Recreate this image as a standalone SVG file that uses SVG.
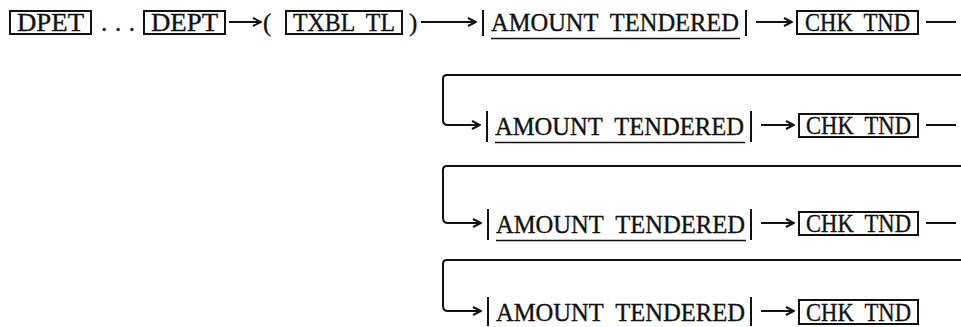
<svg xmlns="http://www.w3.org/2000/svg" width="961" height="327" viewBox="0 0 961 327">
<defs>
<style>
.t{font-family:"Liberation Serif","DejaVu Serif",serif;font-size:25px;fill:#111;stroke:#111;stroke-width:0.35;white-space:pre}
.box{fill:none;stroke:#111;stroke-width:2}
.bar{stroke:#111;stroke-width:2}
.ul{stroke:#111;stroke-width:1.6}
.c{fill:none;stroke:#111;stroke-width:2}
</style>
<marker id="ah" viewBox="0 0 10 10" refX="9" refY="5" markerWidth="10" markerHeight="10" markerUnits="userSpaceOnUse" orient="auto">
<path d="M1,1 L9,5 L1,9" fill="none" stroke="#111" stroke-width="2"/>
</marker>
</defs>
<rect width="961" height="327" fill="#fff"/>

<g id="dpet"><rect class="box" x="10" y="11" width="81" height="23"/><text class="t" x="17" y="31" textLength="67" lengthAdjust="spacingAndGlyphs">DPET</text></g>
<g id="dots"><text class="t" x="101" y="31" textLength="34" lengthAdjust="spacing">. . .</text></g>
<g id="dept"><rect class="box" x="144" y="11" width="81" height="23"/><text class="t" x="151" y="31" textLength="67" lengthAdjust="spacingAndGlyphs">DEPT</text></g>
<g id="paren-open"><text class="t" x="263" y="31">(</text></g>
<g id="txbl"><rect class="box" x="286" y="11" width="116" height="23"/><text class="t" x="293" y="31" textLength="102" lengthAdjust="spacingAndGlyphs" xml:space="preserve">TXBL  TL</text></g>
<g id="paren-close"><text class="t" x="409" y="31">)</text></g>

<g id="amt1"><line class="bar" x1="483" y1="10" x2="483" y2="36"/><text class="t" x="491" y="31" textLength="248" lengthAdjust="spacingAndGlyphs" xml:space="preserve">AMOUNT  TENDERED</text><line class="ul" x1="491" y1="38.5" x2="740" y2="38.5"/><line class="bar" x1="746" y1="10" x2="746" y2="36"/></g>
<g id="chk1"><rect class="box" x="797" y="11" width="121" height="23"/><text class="t" x="805" y="31" textLength="105" lengthAdjust="spacingAndGlyphs" xml:space="preserve">CHK  TND</text></g>

<g id="amt2"><line class="bar" x1="487" y1="111" x2="487" y2="142"/><text class="t" x="495" y="135" textLength="249" lengthAdjust="spacingAndGlyphs" xml:space="preserve">AMOUNT  TENDERED</text><line class="ul" x1="495" y1="142.5" x2="745" y2="142.5"/><line class="bar" x1="751" y1="111" x2="751" y2="142"/></g>
<g id="chk2"><rect class="box" x="799" y="114" width="119" height="23"/><text class="t" x="806" y="134" textLength="105" lengthAdjust="spacingAndGlyphs" xml:space="preserve">CHK  TND</text></g>

<g id="amt3"><line class="bar" x1="488" y1="209" x2="488" y2="240"/><text class="t" x="496" y="233" textLength="249" lengthAdjust="spacingAndGlyphs" xml:space="preserve">AMOUNT  TENDERED</text><line class="ul" x1="496" y1="240.5" x2="746" y2="240.5"/><line class="bar" x1="751" y1="209" x2="751" y2="240"/></g>
<g id="chk3"><rect class="box" x="799" y="212" width="119" height="23"/><text class="t" x="806" y="232" textLength="105" lengthAdjust="spacingAndGlyphs" xml:space="preserve">CHK  TND</text></g>

<g id="amt4"><line class="bar" x1="488" y1="297" x2="488" y2="326"/><text class="t" x="496" y="321" textLength="249" lengthAdjust="spacingAndGlyphs" xml:space="preserve">AMOUNT  TENDERED</text><line class="bar" x1="751" y1="297" x2="751" y2="326"/></g>
<g id="chk4"><rect class="box" x="799" y="300" width="119" height="24"/><text class="t" x="806" y="321" textLength="105" lengthAdjust="spacingAndGlyphs" xml:space="preserve">CHK  TND</text></g>

<g id="connectors">
<line class="c" x1="229" y1="22" x2="261" y2="22" marker-end="url(#ah)"/>
<line class="c" x1="421" y1="22" x2="476" y2="22" marker-end="url(#ah)"/>
<line class="c" x1="756" y1="22" x2="792" y2="22" marker-end="url(#ah)"/>
<line class="c" x1="926" y1="22" x2="956" y2="22"/>

<path class="c" d="M961,75 H447 Q443,75 443,79 V120 Q443,125 448,125 H480" marker-end="url(#ah)"/>
<line class="c" x1="761" y1="125" x2="794" y2="125" marker-end="url(#ah)"/>
<line class="c" x1="926" y1="125" x2="956" y2="125"/>

<path class="c" d="M961,166 H447 Q443,166 443,170 V218 Q443,223 448,223 H481" marker-end="url(#ah)"/>
<line class="c" x1="761" y1="223" x2="794" y2="223" marker-end="url(#ah)"/>
<line class="c" x1="926" y1="223" x2="956" y2="223"/>

<path class="c" d="M961,260 H447 Q443,260 443,264 V306 Q443,311 448,311 H481" marker-end="url(#ah)"/>
<line class="c" x1="761" y1="311" x2="794" y2="311" marker-end="url(#ah)"/>
</g>
</svg>
